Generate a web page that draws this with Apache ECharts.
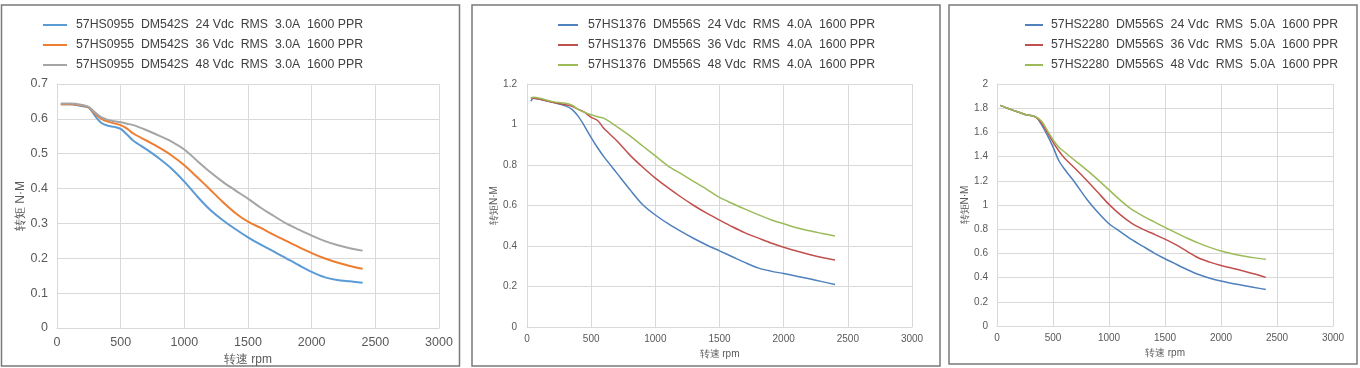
<!DOCTYPE html>
<html>
<head>
<meta charset="utf-8">
<script src="https://cdn.jsdelivr.net/npm/echarts@6/dist/echarts.min.js"></script>
<style>
html,body{margin:0;padding:0;background:#fff;}
#c{width:1360px;height:368px;}
</style>
</head>
<body>
<div id="c"></div>
<script>
// ---------- Panel 1: 57HS0955 / DM542S ----------
const rpm1 = [30,100,200,250,300,350,400,450,500,550,600,700,800,900,1000,1100,1200,1300,1400,1500,1600,1700,1800,1900,2000,2100,2200,2300,2400];
const p1_24 = [0.642,0.642,0.636,0.632,0.608,0.588,0.580,0.577,0.571,0.555,0.537,0.513,0.487,0.457,0.420,0.378,0.340,0.310,0.284,0.260,0.239,0.220,0.200,0.180,0.161,0.146,0.138,0.134,0.130];
const p1_36 = [0.642,0.642,0.638,0.633,0.614,0.600,0.592,0.587,0.582,0.572,0.558,0.538,0.518,0.495,0.467,0.433,0.398,0.362,0.330,0.305,0.287,0.268,0.250,0.232,0.215,0.200,0.188,0.178,0.170];
const p1_48 = [0.644,0.644,0.640,0.634,0.618,0.604,0.597,0.593,0.590,0.586,0.582,0.568,0.552,0.535,0.512,0.480,0.448,0.420,0.395,0.371,0.345,0.322,0.300,0.282,0.265,0.250,0.238,0.229,0.222];
const p1_names = ['57HS0955  DM542S  24 Vdc  RMS  3.0A  1600 PPR','57HS0955  DM542S  36 Vdc  RMS  3.0A  1600 PPR','57HS0955  DM542S  48 Vdc  RMS  3.0A  1600 PPR'];

// ---------- Panel 2: 57HS1376 / DM556S ----------
const rpm2 = [30,50,100,200,300,350,400,450,500,550,600,700,800,900,1000,1100,1200,1300,1400,1500,1600,1700,1800,1900,2000,2100,2200,2300,2400];
const p2_24 = [1.115,1.130,1.125,1.110,1.092,1.075,1.040,0.990,0.935,0.885,0.840,0.760,0.680,0.605,0.553,0.510,0.472,0.437,0.405,0.376,0.347,0.318,0.292,0.276,0.264,0.251,0.238,0.224,0.210];
const p2_36 = [1.130,1.130,1.125,1.110,1.098,1.090,1.075,1.060,1.035,1.020,0.980,0.920,0.850,0.790,0.735,0.687,0.642,0.600,0.562,0.528,0.495,0.465,0.440,0.415,0.394,0.375,0.358,0.343,0.331];
const p2_48 = [1.130,1.135,1.130,1.113,1.105,1.095,1.075,1.060,1.048,1.038,1.030,0.990,0.945,0.895,0.845,0.795,0.757,0.718,0.680,0.640,0.610,0.582,0.555,0.530,0.510,0.490,0.475,0.462,0.449];
const p2_names = ['57HS1376  DM556S  24 Vdc  RMS  4.0A  1600 PPR','57HS1376  DM556S  36 Vdc  RMS  4.0A  1600 PPR','57HS1376  DM556S  48 Vdc  RMS  4.0A  1600 PPR'];

// ---------- Panel 3: 57HS2280 / DM556S ----------
const rpm3 = [30,100,150,200,250,300,350,400,450,500,550,600,700,800,900,1000,1100,1200,1300,1400,1500,1600,1700,1800,1900,2000,2100,2200,2300,2400];
const p3_24 = [1.823,1.797,1.780,1.765,1.748,1.740,1.725,1.660,1.575,1.480,1.370,1.300,1.180,1.050,0.940,0.845,0.780,0.715,0.660,0.605,0.556,0.510,0.465,0.425,0.395,0.372,0.352,0.335,0.318,0.302];
const p3_36 = [1.823,1.797,1.780,1.765,1.748,1.740,1.725,1.675,1.600,1.520,1.450,1.390,1.300,1.205,1.105,1.005,0.920,0.850,0.800,0.760,0.718,0.670,0.615,0.562,0.528,0.500,0.478,0.455,0.430,0.402];
const p3_48 = [1.823,1.797,1.780,1.765,1.748,1.740,1.727,1.690,1.615,1.540,1.480,1.440,1.365,1.290,1.210,1.125,1.040,0.965,0.910,0.862,0.815,0.770,0.725,0.685,0.650,0.620,0.597,0.578,0.563,0.552];
const p3_names = ['57HS2280  DM556S  24 Vdc  RMS  5.0A  1600 PPR','57HS2280  DM556S  36 Vdc  RMS  5.0A  1600 PPR','57HS2280  DM556S  48 Vdc  RMS  5.0A  1600 PPR'];

const yName1 = '转矩 N·M', yName23 = '转矩N·M', xName = '转速 rpm';

const colors1 = ['#5B9BD5','#ED7D31','#A5A5A5'];
const colors2 = ['#4F81BD','#C0504D','#9BBB59'];

function pairs(xs, ys){ return xs.map((x,i)=>[x, ys[i]]); }

const chart = echarts.init(document.getElementById('c'), null, {renderer:'canvas'});
const font = 'Liberation Sans, Arial, Helvetica, sans-serif';
const gridCol = '#D9D9D9';

function xAx(gi, fs, margin, nameGap, nameFs){
  return {type:'value', gridIndex:gi, min:0, max:3000, interval:500,
    name:xName, nameLocation:'middle', nameGap:nameGap,
    nameTextStyle:{color:'#595959', fontSize:nameFs, fontFamily:font},
    axisLine:{show:true, lineStyle:{color:gridCol}}, axisTick:{show:false},
    axisLabel:{color:'#595959', fontSize:fs, margin:margin, fontFamily:font, formatter:(v)=>String(v)},
    splitLine:{show:true, lineStyle:{color:gridCol}}};
}
function yAx(gi, max, interval, fs, margin, name, nameGap, nameFs){
  return {type:'value', gridIndex:gi, min:0, max:max, interval:interval,
    name:name, nameLocation:'middle', nameGap:nameGap,
    nameTextStyle:{color:'#595959', fontSize:nameFs, fontFamily:font},
    axisLine:{show:true, lineStyle:{color:gridCol}}, axisTick:{show:false},
    axisLabel:{color:'#595959', fontSize:fs, margin:margin, fontFamily:font, formatter:(v)=>String(+v.toFixed(1))},
    splitLine:{show:true, lineStyle:{color:gridCol}}};
}
function ser(name, data, color, gi, w){
  return {type:'line', name:name, data:data, xAxisIndex:gi, yAxisIndex:gi,
    smooth:0.3, showSymbol:false, symbol:'none', color:color,
    lineStyle:{width:w, color:color}, animation:false};
}
function leg(names, left, iw, gap){
  return {data:names, left:left, top:13, orient:'vertical', icon:'rect',
    itemWidth:iw, itemHeight:2, itemGap:6,
    textStyle:{color:'#404040', fontSize:12.3, fontFamily:font, lineHeight:14, padding:[0,0,0,gap]}};
}

const option = {
  backgroundColor:'#fff',
  animation:false,
  grid:[
    {left:57, top:84, width:382, height:244, outerBoundsMode:'none', containLabel:false},
    {left:527, top:84, width:385, height:243, outerBoundsMode:'none', containLabel:false},
    {left:997, top:84, width:336, height:242, outerBoundsMode:'none', containLabel:false}
  ],
  xAxis:[ xAx(0,12.5,8,24,12), xAx(1,10,7,21,10), xAx(2,10,7,21,10) ],
  yAxis:[ yAx(0,0.7,0.1,12.5,9,yName1,30,12), yAx(1,1.2,0.2,10,10,yName23,28,10), yAx(2,2,0.2,10,9,yName23,24,10) ],
  legend:[ leg(p1_names,38,24,4), leg(p2_names,553,20,5), leg(p3_names,1020,18,3) ],
  graphic:[
    {type:'rect', shape:{x:1.5,y:5,width:458,height:361}, style:{fill:'none', stroke:'#7a7a7a', lineWidth:1.5}, silent:true},
    {type:'rect', shape:{x:472,y:5,width:468,height:361}, style:{fill:'none', stroke:'#7a7a7a', lineWidth:1.5}, silent:true},
    {type:'rect', shape:{x:949,y:5,width:408,height:359}, style:{fill:'none', stroke:'#7a7a7a', lineWidth:1.5}, silent:true}
  ],
  series:[
    ser(p1_names[0], pairs(rpm1,p1_24), colors1[0], 0, 2),
    ser(p1_names[1], pairs(rpm1,p1_36), colors1[1], 0, 2),
    ser(p1_names[2], pairs(rpm1,p1_48), colors1[2], 0, 2),
    ser(p2_names[0], pairs(rpm2,p2_24), colors2[0], 1, 1.5),
    ser(p2_names[1], pairs(rpm2,p2_36), colors2[1], 1, 1.5),
    ser(p2_names[2], pairs(rpm2,p2_48), colors2[2], 1, 1.5),
    ser(p3_names[0], pairs(rpm3,p3_24), colors2[0], 2, 1.5),
    ser(p3_names[1], pairs(rpm3,p3_36), colors2[1], 2, 1.5),
    ser(p3_names[2], pairs(rpm3,p3_48), colors2[2], 2, 1.5)
  ]
};
chart.setOption(option);
</script>
</body>
</html>
